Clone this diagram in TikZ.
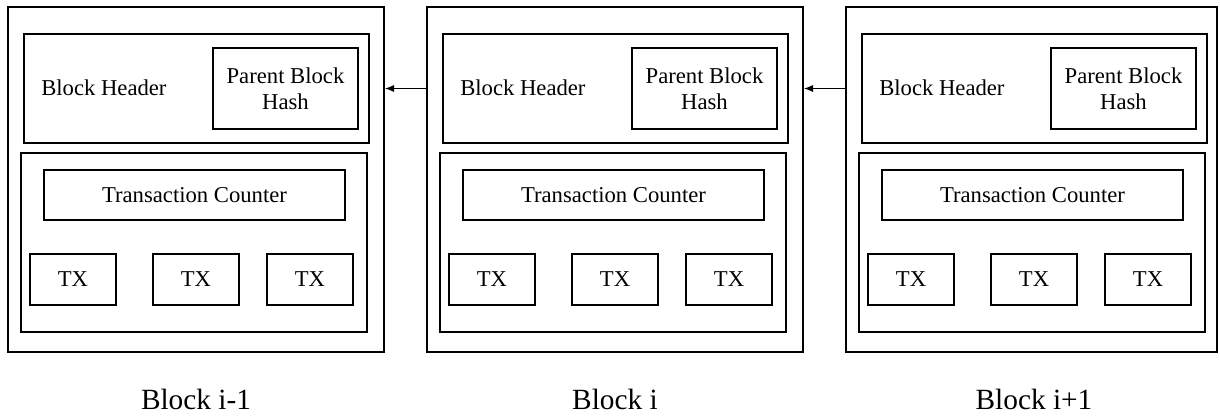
\documentclass[tikz,border=0pt]{standalone}
\usepackage{fontspec}
\setmainfont{Liberation Serif}
\usetikzlibrary{arrows.meta}

\begin{document}
\begin{tikzpicture}[x=0.75pt,y=0.75pt,yscale=-1,xscale=1,
  box/.style={draw,line width=1.2pt,inner sep=0pt},
  txt/.style={font=\fontsize{17}{19.5}\selectfont},
  lbl/.style={font=\fontsize{22}{26}\selectfont,inner sep=0pt,anchor=base},
  arr/.style={line width=1.1pt,-{Latex[length=7pt,width=5.5pt]}}]
\useasboundingbox (0,0) rectangle (1220,415);

\foreach \i/\x/\w/\name in {1/0/376/{Block i-1},2/419/376/{Block i},3/838/371/{Block i+1}}{
  %Shape: Block
  \node[box,minimum width=0.75pt*\w,minimum height=258.75pt] (blk\i) at (8+\x+\w/2,179.5) {};
  %Shape: Header
  \node[box,minimum width=258.75pt,minimum height=81.75pt] (hdr\i) at (196.5+\x,88.5) {};
  \node[txt,anchor=west,inner sep=0pt] (hdrtxt\i) at (41+\x,88) {Block Header};
  \node[box,txt,align=center,minimum width=108.75pt,minimum height=60.75pt] (par\i) at (285.5+\x,88.5) {Parent Block\\Hash};
  %Shape: Body
  \node[box,minimum width=259.5pt,minimum height=134.25pt] (body\i) at (194+\x,242.5) {};
  \node[box,txt,minimum width=225.75pt,minimum height=37.5pt] (cnt\i) at (194.5+\x,195) {Transaction Counter};
  \node[box,txt,minimum width=64.5pt,minimum height=38.25pt] (txa\i) at (73+\x,279.5) {TX};
  \node[box,txt,minimum width=64.5pt,minimum height=38.25pt] (txb\i) at (196+\x,279.5) {TX};
  \node[box,txt,minimum width=64.5pt,minimum height=38.25pt] (txc\i) at (310+\x,279.5) {TX};
  % Text Node
  \node[lbl] (lbl\i) at (196+\x,409) {\name};
}

%Straight Lines
\draw[arr] (blk2.west |- hdr2) -- (blk1.east |- hdr2);
\draw[arr] (blk3.west |- hdr3) -- (blk2.east |- hdr3);

\end{tikzpicture}
\end{document}
